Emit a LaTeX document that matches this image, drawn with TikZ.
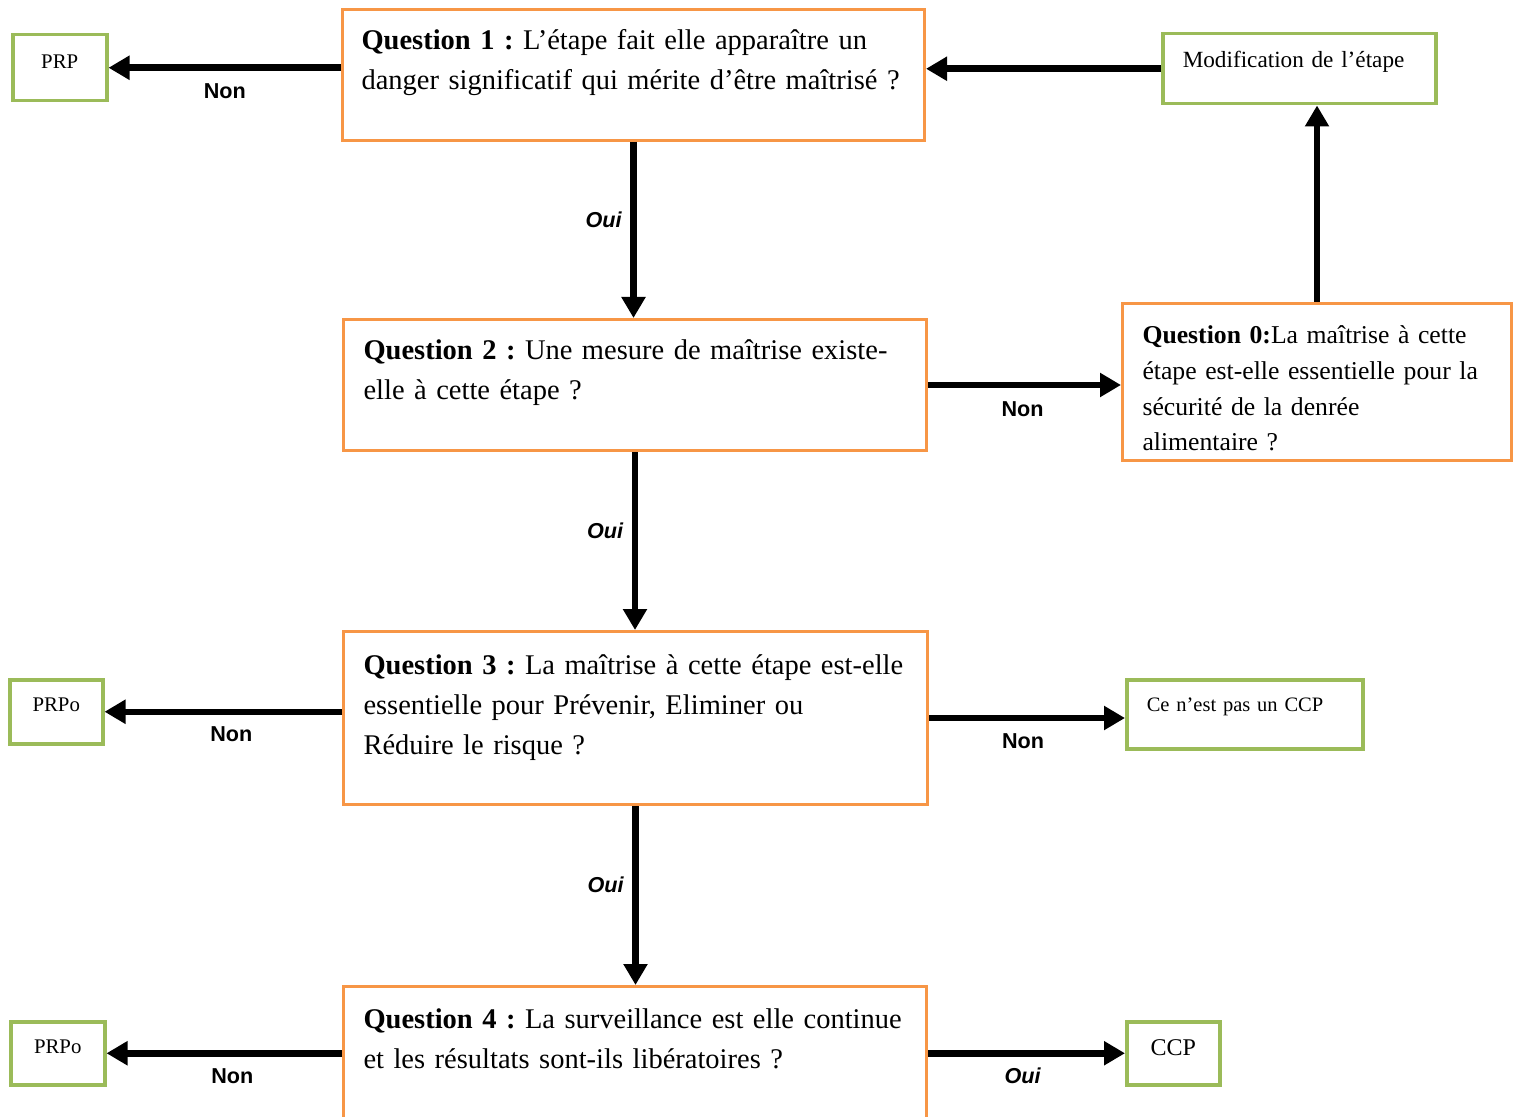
\documentclass[tikz,border=0pt]{standalone}
\usepackage{fontspec}
\setmainfont{Liberation Serif}
\newfontfamily\lblfont{Liberation Sans}
\usetikzlibrary{arrows.meta}
\definecolor{qorange}{RGB}{247,150,70}
\definecolor{rgreen}{RGB}{155,187,89}
\frenchspacing

\begin{document}
\begin{tikzpicture}[
                  x=0.5pt,y=-0.5pt,
                  qbox/.style={draw=qorange,line width=1.5pt,anchor=north west,align=left,inner xsep=10pt,inner ysep=0pt,text width=271.5pt,font=\fontsize{14.25}{20}\selectfont},
                  rbox/.style={draw=rgreen,line width=1.75pt,anchor=north west,inner xsep=0pt,inner ysep=0pt,font=\fontsize{10.4}{13}\selectfont},
                  arr/.style={-{Triangle[length=10.5pt,width=11.5pt]},line width=3.25pt},
                  lbl/.style={inner sep=0pt,font=\lblfont\bfseries\fontsize{10.8}{13}\selectfont},
                  ylbl/.style={inner sep=0pt,font=\lblfont\bfseries\itshape\fontsize{10.8}{13}\selectfont}
                ]
                \useasboundingbox (0,0) rectangle (1518,1117);
                \clip (0,0) rectangle (1518,1117);

                \node[qbox,text width=272pt,inner xsep=9.5pt,text height=20pt,text depth=45.5pt] (q1) at (341,8) {\mbox{\textbf{Question 1 :} L’étape fait elle apparaître un}\\\mbox{danger significatif qui mérite d’être maîtrisé ?}};
                \node[qbox,text height=20pt,text depth=45.5pt] (q2) at (342,318) {\mbox{\textbf{Question 2 :} Une mesure de maîtrise existe-}\\\mbox{elle à cette étape ?}};
                \node[qbox,text width=272pt,text height=21.5pt,text depth=65pt] (q3) at (342,630) {\mbox{\textbf{Question 3 :} La maîtrise à cette étape est-elle}\\\mbox{essentielle pour Prévenir, Eliminer ou}\\\mbox{Réduire le risque ?}};
                \node[qbox,text height=21pt,text depth=65.5pt] (q4) at (342,985) {\mbox{\textbf{Question 4 :} La surveillance est elle continue}\\\mbox{et les résultats sont-ils libératoires ?}};
                \node[qbox,text width=174.5pt,text height=20pt,text depth=58.5pt,font=\fontsize{12.85}{17.9}\selectfont] (q0) at (1121,302) {\mbox{\textbf{Question 0:}La maîtrise à cette}\\\mbox{étape est-elle essentielle pour la}\\\mbox{sécurité de la denrée}\\\mbox{alimentaire ?}};

                \node[rbox,minimum width=47pt,text height=17pt,text depth=16pt] (prp) at (11,33) {PRP};
                \node[rbox,align=left,inner xsep=10pt,text width=116.5pt,text height=17pt,text depth=18pt,font=\fontsize{11.6}{14}\selectfont] (modif) at (1161,32) {\mbox{Modification de l’étape}};
                \node[rbox,minimum width=46.5pt,text height=16pt,text depth=16pt] (prpo3) at (8,678) {PRPo};
                \node[rbox,align=left,inner xsep=10pt,text width=98pt,text height=16pt,text depth=18.5pt,font=\fontsize{10.25}{13}\selectfont] (nonccp) at (1125,678) {\mbox{Ce n’est pas un CCP}};
                \node[rbox,minimum width=47pt,text height=16pt,text depth=15.5pt] (prpo4) at (9,1020) {PRPo};
                \node[rbox,minimum width=46.5pt,text height=17pt,text depth=14.5pt,font=\fontsize{12}{14}\selectfont] (ccp) at (1125,1020) {CCP};

                \draw[arr] (q1.west |- prp.east) -- node[lbl,midway,yshift=-11.5pt]{Non} (prp.east);
                \draw[arr] (modif.west) -- (modif.west -| q1.east);
                \draw[arr] (q1.south) -- node[ylbl,pos=0.44,xshift=-15pt]{Oui} (q1.south |- q2.north);
                \draw[arr] (q0.north) -- (q0.north |- modif.south);
                \draw[arr] (q2.east) -- node[lbl,midway,yshift=-12pt,xshift=-1pt]{Non} (q2.east -| q0.west);
                \draw[arr] (q2.south) -- node[ylbl,pos=0.44,xshift=-15pt]{Oui} (q2.south |- q3.north);
                \draw[arr] (q3.west |- prpo3.east) -- node[lbl,midway,yshift=-11pt,xshift=4pt]{Non} (prpo3.east);
                \draw[arr] (q3.east) -- node[lbl,midway,yshift=-11.5pt,xshift=-2pt]{Non} (q3.east -| nonccp.west);
                \draw[arr] (q3.south) -- node[ylbl,pos=0.44,xshift=-15pt]{Oui} (q3.south |- q4.north);
                \draw[arr] (q4.west |- prpo4.east) -- node[lbl,midway,yshift=-11.5pt,xshift=4pt]{Non} (prpo4.east);
                \draw[arr] (q4.east |- ccp.west) -- node[ylbl,midway,yshift=-11.5pt,xshift=-2pt]{Oui} (ccp.west);
                \end{tikzpicture}
\end{document}
